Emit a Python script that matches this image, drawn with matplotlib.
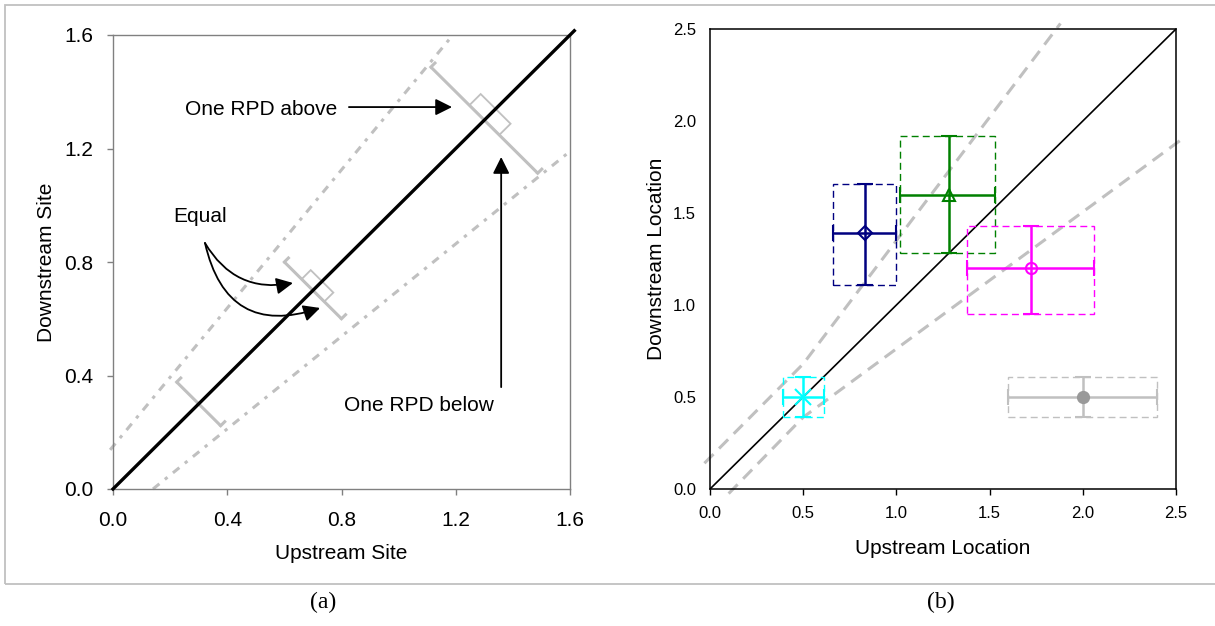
import numpy as np
import matplotlib.pyplot as plt
from matplotlib.patches import Rectangle, Polygon

plt.rcParams['font.family'] = ['Liberation Sans', 'DejaVu Sans']

# ---- panel (a) data ----
rpd_up_x = [-0.01, 1.19]
rpd_up_y = [0.138, 1.60]
rpd_lo_x = [0.14, 1.60]
rpd_lo_y = [0.0, 1.19]
perp_center = [0.3, 0.7, 1.3]
perp_half = [0.077, 0.10, 0.187]
box_center = [0.7, 1.3]
box_len = [0.056, 0.074]
box_wid = [0.045, 0.056]

# ---- panel (b) data ----
pt_x = [0.83, 1.28, 1.72, 0.50, 2.00]
pt_y = [1.39, 1.60, 1.20, 0.50, 0.50]
x_lo = [0.66, 1.02, 1.38, 0.39, 1.60]
x_hi = [1.00, 1.53, 2.06, 0.61, 2.40]
y_lo = [1.11, 1.28, 0.95, 0.39, 0.39]
y_hi = [1.66, 1.92, 1.43, 0.61, 0.61]
pt_color = ['#000080', '#008000', '#ff00ff', '#00ffff', '#c0c0c0']
pt_face = ['none', 'none', 'none', 'none', '#999999']
pt_marker = ['D', '^', 'o', 'x', 'o']
pt_size = [7, 9, 8, 11, 8]
up_b_x = [-0.03, 0.50, 1.88]
up_b_y = [0.14, 0.68, 2.53]
lo_b_x = [0.10, 0.50, 2.53]
lo_b_y = [-0.025, 0.39, 1.90]

W, H = 1215, 626
fig = plt.figure(figsize=(W / 100, H / 100), dpi=100)

gray = '#c0c0c0'

# ================= (a) =================
ax = fig.add_axes([113 / W, 1 - 489 / H, (570 - 113) / W, (489 - 35) / H])
ax.set_xlim(0, 1.6)
ax.set_ylim(0, 1.6)
ticks = [0.0, 0.4, 0.8, 1.2, 1.6]
ax.set_xticks(ticks)
ax.set_yticks(ticks)
ax.set_xticklabels(['%.1f' % t for t in ticks])
ax.set_yticklabels(['%.1f' % t for t in ticks])
ax.tick_params(direction='out', length=4, width=1, colors='#808080', labelcolor='black', labelsize=15)
ax.tick_params(axis='x', pad=12)
ax.tick_params(axis='y', pad=10)
for s in ax.spines.values():
    s.set_color('#808080')
    s.set_linewidth(1)
ax.set_xlabel('Upstream Site', fontsize=15, labelpad=10)
ax.set_ylabel('Downstream Site', fontsize=15, labelpad=6)

lw_rpd = 2.2
ax.plot(rpd_up_x, rpd_up_y, color=gray, lw=lw_rpd, dashes=(2.7, 2.3, 1.1, 2.3), clip_on=False)
ax.plot(rpd_lo_x, rpd_lo_y, color=gray, lw=lw_rpd, dashes=(2.7, 2.3, 1.1, 2.3), clip_on=False)
ax.plot([0, 1.615], [0, 1.615], color='black', lw=2.4, clip_on=False, zorder=4)

u = np.array([-1.0, 1.0]) / np.sqrt(2)
v = np.array([1.0, 1.0]) / np.sqrt(2)
for c, h in zip(perp_center, perp_half):
    p1 = np.array([c - h, c + h])
    p2 = np.array([c + h, c - h])
    ax.plot([p1[0], p2[0]], [p1[1], p2[1]], color=gray, lw=2.2, solid_capstyle='butt', zorder=3)
    for p in (p1, p2):
        q = p + 0.02 * v
        ax.plot([p[0], q[0]], [p[1], q[1]], color=gray, lw=2.2, zorder=3)
for c, L, Wd in zip(box_center, box_len, box_wid):
    cc = np.array([c, c])
    verts = [cc - L * u, cc + L * u, cc + L * u + Wd * v, cc - L * u + Wd * v]
    ax.add_patch(Polygon(verts, closed=True, fill=False, ec=gray, lw=1.3, zorder=3))

arrow_kw = dict(arrowstyle='-|>', color='black', lw=1.3, mutation_scale=25, shrinkA=0, shrinkB=0)
ax.text(0.518, 1.336, 'One RPD above', fontsize=15, ha='center', va='center')
ax.annotate('', xy=(1.187, 1.346), xytext=(0.826, 1.346), arrowprops=arrow_kw)
ax.text(0.305, 0.962, 'Equal', fontsize=15, ha='center', va='center')
ax.annotate('', xy=(0.63, 0.726), xytext=(0.322, 0.867),
            arrowprops=dict(arrow_kw, connectionstyle='arc3,rad=0.35'))
ax.annotate('', xy=(0.725, 0.638), xytext=(0.322, 0.867),
            arrowprops=dict(arrow_kw, connectionstyle='arc3,rad=0.55'))
ax.annotate('', xy=(1.359, 1.17), xytext=(1.359, 0.359), arrowprops=arrow_kw)
ax.text(1.071, 0.293, 'One RPD below', fontsize=15, ha='center', va='center')

# ================= (b) =================
bx = fig.add_axes([710 / W, 1 - 489 / H, (1176 - 710) / W, (489 - 29) / H])
bx.set_xlim(0, 2.5)
bx.set_ylim(0, 2.5)
bt = [0.0, 0.5, 1.0, 1.5, 2.0, 2.5]
bx.set_xticks(bt)
bx.set_yticks(bt)
bx.set_xticklabels(['%.1f' % t for t in bt])
bx.set_yticklabels(['%.1f' % t for t in bt])
bx.tick_params(axis='x', direction='out', length=4, width=1, labelsize=12, pad=8)
bx.tick_params(axis='y', length=0, labelsize=12, pad=10)
for s in bx.spines.values():
    s.set_linewidth(1.1)
bx.set_xlabel('Upstream Location', fontsize=15, labelpad=13)
bx.set_ylabel('Downstream Location', fontsize=15, labelpad=5)

bx.plot([0, 2.5], [0, 2.5], color='black', lw=1.2, zorder=2)
bx.plot(up_b_x, up_b_y, color=gray, lw=2.2, dashes=(4.2, 2.6), clip_on=False, zorder=1)
bx.plot(lo_b_x, lo_b_y, color=gray, lw=2.2, dashes=(4.2, 2.6), clip_on=False, zorder=1)

for i in range(len(pt_x)):
    col = pt_color[i]
    bx.add_patch(Rectangle((x_lo[i], y_lo[i]), x_hi[i] - x_lo[i], y_hi[i] - y_lo[i],
                           fill=False, ec=col, lw=1.0, ls=(0, (5, 3)), zorder=3))
    bx.errorbar([pt_x[i]], [pt_y[i]],
                xerr=[[pt_x[i] - x_lo[i]], [x_hi[i] - pt_x[i]]],
                yerr=[[pt_y[i] - y_lo[i]], [y_hi[i] - pt_y[i]]],
                fmt=pt_marker[i], color=col, mfc=pt_face[i],
                mec=pt_face[i] if pt_face[i] != 'none' else col,
                ms=pt_size[i], mew=1.5, elinewidth=1.8, capsize=5.5, capthick=1.8, zorder=4)

# frame around both panels and panel labels
fig.add_artist(Rectangle((5 / W, 1 - 584 / H), 1.0, 579 / H, transform=fig.transFigure,
                         fill=False, ec='#c0c0c0', lw=1.3))
fig.text(323 / W, 1 - 602 / H, '(a)', family='Liberation Serif', fontsize=17, ha='center', va='center')
fig.text(941 / W, 1 - 602 / H, '(b)', family='Liberation Serif', fontsize=17, ha='center', va='center')

fig.savefig('out.png', dpi=100)
